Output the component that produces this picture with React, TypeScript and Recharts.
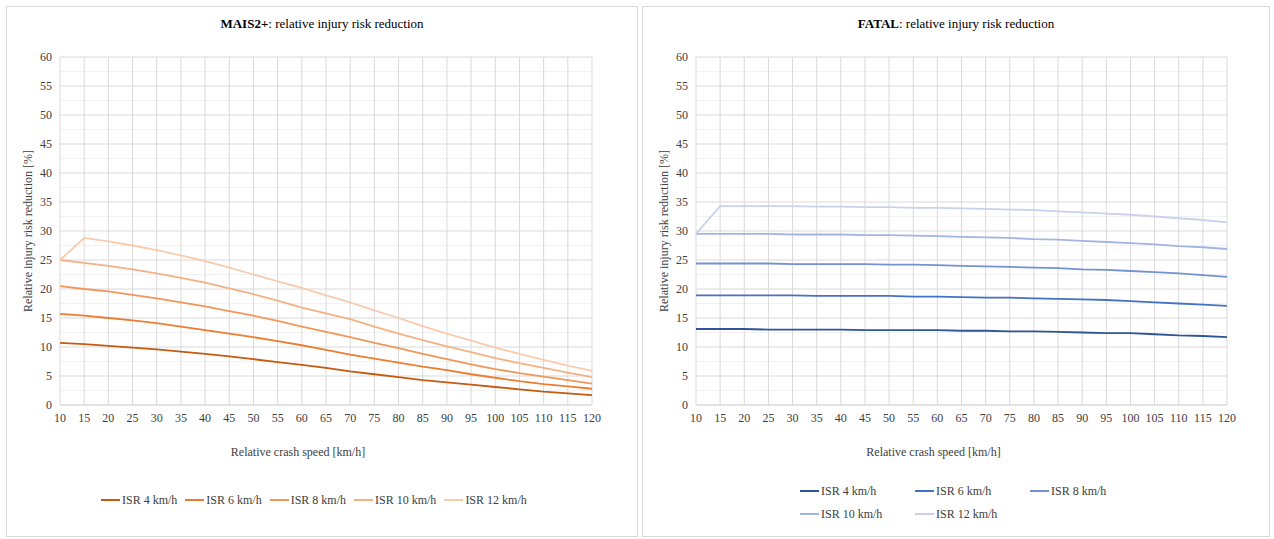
import React from "react";
import {
  CartesianGrid,
  Legend,
  Line,
  LineChart,
  XAxis,
  YAxis
} from "recharts";

const speeds = [10, 15, 20, 25, 30, 35, 40, 45, 50, 55, 60, 65, 70, 75, 80, 85, 90, 95, 100, 105, 110, 115, 120];
const yTicks = [0, 5, 10, 15, 20, 25, 30, 35, 40, 45, 50, 55, 60];
const yMinor = [2.5, 7.5, 12.5, 17.5, 22.5, 27.5, 32.5, 37.5, 42.5, 47.5, 52.5, 57.5];
const seriesNames = ["ISR 4 km/h", "ISR 6 km/h", "ISR 8 km/h", "ISR 10 km/h", "ISR 12 km/h"];

// MAIS2+ chart
const mais4 = [10.7, 10.5, 10.2, 9.9, 9.6, 9.2, 8.8, 8.4, 7.9, 7.4, 6.9, 6.4, 5.8, 5.3, 4.8, 4.3, 3.9, 3.5, 3.1, 2.7, 2.3, 2.0, 1.7];
const mais6 = [15.7, 15.4, 15.0, 14.6, 14.1, 13.5, 12.9, 12.3, 11.7, 11.0, 10.3, 9.5, 8.7, 8.0, 7.3, 6.6, 6.0, 5.3, 4.7, 4.1, 3.6, 3.2, 2.8];
const mais8 = [20.5, 20.0, 19.6, 19.0, 18.4, 17.7, 17.0, 16.2, 15.4, 14.5, 13.5, 12.6, 11.7, 10.7, 9.8, 8.8, 7.9, 7.0, 6.2, 5.5, 4.9, 4.3, 3.7];
const mais10 = [25.0, 24.5, 24.0, 23.4, 22.7, 21.9, 21.1, 20.1, 19.1, 18.0, 16.8, 15.8, 14.8, 13.5, 12.3, 11.2, 10.1, 9.1, 8.1, 7.2, 6.4, 5.6, 4.8];
const mais12 = [25.0, 28.8, 28.2, 27.5, 26.7, 25.8, 24.8, 23.7, 22.5, 21.3, 20.2, 18.9, 17.7, 16.3, 15.0, 13.6, 12.3, 11.1, 9.9, 8.8, 7.8, 6.8, 5.9];

// FATAL chart
const fatal4 = [13.1, 13.1, 13.1, 13.0, 13.0, 13.0, 13.0, 12.9, 12.9, 12.9, 12.9, 12.8, 12.8, 12.7, 12.7, 12.6, 12.5, 12.4, 12.4, 12.2, 12.0, 11.9, 11.7];
const fatal6 = [18.9, 18.9, 18.9, 18.9, 18.9, 18.8, 18.8, 18.8, 18.8, 18.7, 18.7, 18.6, 18.5, 18.5, 18.4, 18.3, 18.2, 18.1, 17.9, 17.7, 17.5, 17.3, 17.1];
const fatal8 = [24.4, 24.4, 24.4, 24.4, 24.3, 24.3, 24.3, 24.3, 24.2, 24.2, 24.1, 24.0, 23.9, 23.8, 23.7, 23.6, 23.4, 23.3, 23.1, 22.9, 22.7, 22.4, 22.1];
const fatal10 = [29.5, 29.5, 29.5, 29.5, 29.4, 29.4, 29.4, 29.3, 29.3, 29.2, 29.1, 29.0, 28.9, 28.8, 28.6, 28.5, 28.3, 28.1, 27.9, 27.7, 27.4, 27.2, 26.9];
const fatal12 = [29.5, 34.3, 34.3, 34.3, 34.3, 34.2, 34.2, 34.1, 34.1, 34.0, 34.0, 33.9, 33.8, 33.7, 33.6, 33.4, 33.2, 33.0, 32.8, 32.5, 32.2, 31.9, 31.5];

const orangeColors = ["#c55a11", "#ed7d31", "#f1975a", "#f4b183", "#f8cbad"];
const blueColors = ["#2f5597", "#4472c4", "#7392d2", "#a2b4e0", "#c8d2eb"];

const FONT = '"Liberation Serif", "Times New Roman", serif';

const buildRows = (series: number[][]) =>
  speeds.map((speed, i) => ({
    speed,
    s4: series[0][i],
    s6: series[1][i],
    s8: series[2][i],
    s10: series[3][i],
    s12: series[4][i]
  }));

const maisData = buildRows([mais4, mais6, mais8, mais10, mais12]);
const fatalData = buildRows([fatal4, fatal6, fatal8, fatal10, fatal12]);
const keys = ["s4", "s6", "s8", "s10", "s12"];

function LegendItems({ payload, grid }: any) {
  const style: React.CSSProperties = grid
    ? { display: "grid", gridTemplateColumns: "115px 115px 115px", rowGap: 7 }
    : { display: "flex", gap: 8 };
  // keep series order (recharts sorts by name otherwise)
  const items = [...(payload || [])].sort(
    (a: any, b: any) => seriesNames.indexOf(a.value) - seriesNames.indexOf(b.value)
  );
  return (
    <div style={{ ...style, fontFamily: FONT, fontSize: 12, color: "#404040", lineHeight: "16px" }}>
      {items.map((p: any) => (
        <div key={p.value} style={{ display: "flex", alignItems: "center" }}>
          <span style={{ display: "inline-block", width: 19, height: 2, background: p.color, marginRight: 2 }} />
          <span>{p.value}</span>
        </div>
      ))}
    </div>
  );
}

function Panel({
  left,
  width,
  label,
  data,
  colors,
  marginRight,
  legendStyle,
  grid
}: {
  left: number;
  width: number;
  label: string;
  data: any[];
  colors: string[];
  marginRight: number;
  legendStyle: React.CSSProperties;
  grid: boolean;
}) {
  return (
    <div
      style={{
        position: "absolute",
        left,
        top: 6,
        width: width + 2,
        height: 531,
        boxSizing: "border-box",
        border: "1px solid #d9d9d9",
        background: "#fff"
      }}
    >
      <div
        style={{
          position: "absolute",
          top: 8,
          left: 0,
          width: width,
          textAlign: "center",
          fontFamily: FONT,
          fontSize: 13,
          color: "#000",
          lineHeight: "18px"
        }}
      >
        <b>{label}</b>: relative injury risk reduction
      </div>
      <LineChart
        width={width}
        height={529}
        data={data}
        margin={{ top: 50, right: marginRight, bottom: 0, left: 0 }}
        style={{ fontFamily: FONT }}
      >
        <CartesianGrid horizontalValues={yMinor} vertical={false} stroke="#f2f2f2" />
        <CartesianGrid stroke="#d9d9d9" />
        <XAxis
          dataKey="speed"
          type="number"
          domain={[10, 120]}
          ticks={speeds}
          interval={0}
          height={131}
          tickLine={false}
          axisLine={{ stroke: "#d9d9d9" }}
          tick={{ fontSize: 12, fill: "#404040", fontFamily: FONT }}
          label={{
            value: "Relative crash speed [km/h]",
            position: "insideTop",
            offset: 42,
            dx: -28,
            style: { fontSize: 12, fill: "#404040", fontFamily: FONT }
          }}
        />
        <YAxis
          domain={[0, 60]}
          ticks={yTicks}
          interval={0}
          width={53}
          tickLine={false}
          axisLine={false}
          tick={{ fontSize: 12, fill: "#404040", fontFamily: FONT }}
          label={{
            value: "Relative injury risk reduction [%]",
            angle: -90,
            position: "insideLeft",
            offset: 21,
            style: { fontSize: 12, fill: "#404040", textAnchor: "middle", fontFamily: FONT }
          }}
        />
        <Legend
          layout="horizontal"
          verticalAlign="middle"
          align="center"
          wrapperStyle={legendStyle}
          content={(props: any) => <LegendItems {...props} grid={grid} />}
        />
        {keys.map((k, i) => (
          <Line
            key={k}
            type="linear"
            dataKey={k}
            name={seriesNames[i]}
            stroke={colors[i]}
            strokeWidth={1.8}
            dot={false}
            activeDot={false}
            isAnimationActive={false}
          />
        ))}
      </LineChart>
    </div>
  );
}

export default function App() {
  return (
    <div
      style={{
        position: "absolute",
        left: 0,
        top: 0,
        width: 1274,
        height: 539,
        background: "#fff",
        fontFamily: FONT
      }}
    >
      <Panel
        left={6}
        width={630}
        label="MAIS2+"
        data={maisData}
        colors={orangeColors}
        marginRight={45}
        legendStyle={{ left: 94, top: 485, width: 500, height: 16 }}
        grid={false}
      />
      <Panel
        left={642}
        width={626}
        label="FATAL"
        data={fatalData}
        colors={blueColors}
        marginRight={42}
        legendStyle={{ left: 157, top: 476, width: 360, height: 40 }}
        grid={true}
      />
    </div>
  );
}
